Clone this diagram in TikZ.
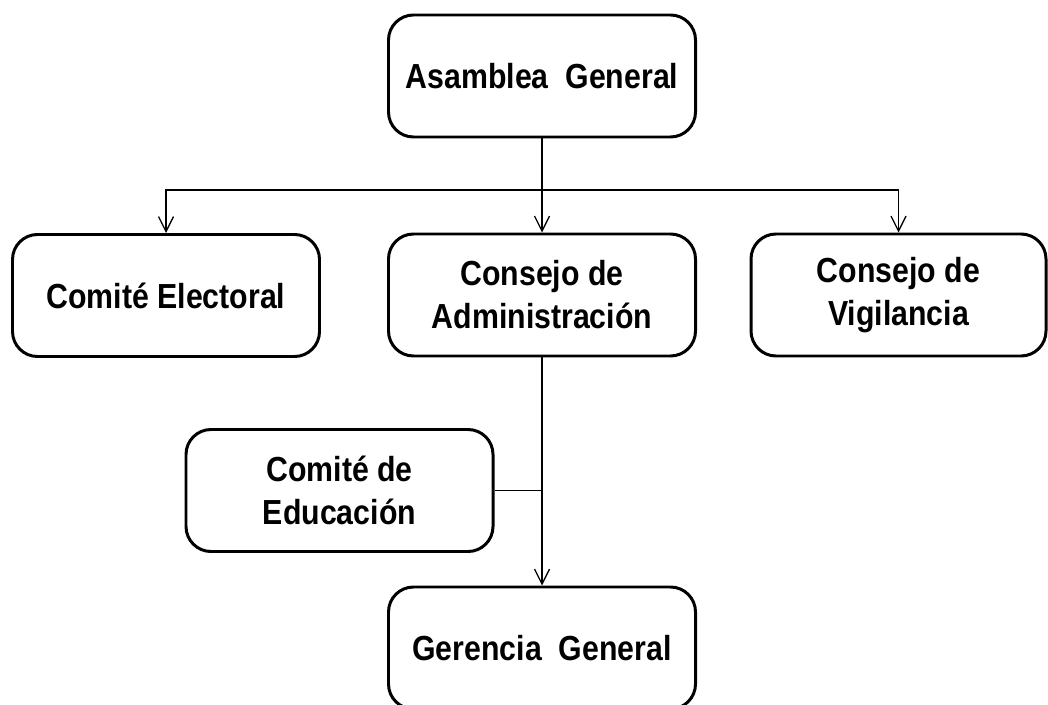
\documentclass[tikz,border=0pt]{standalone}
\usepackage{fontspec}
\setmainfont{Liberation Sans}
\newfontfamily\unitfont{Liberation Sans}[FakeStretch=0.87]
\usetikzlibrary{arrows.meta}
\begin{document}
\begin{tikzpicture}[
  unit/.style={draw=black, line width=1.7pt, rounded corners=0.5cm, fill=white,
    minimum width=6.14cm, minimum height=2.44cm, align=center,
    font=\unitfont\bfseries\fontsize{19.8}{24.4}\selectfont},
  link/.style={draw=black, line width=0.75pt},
  >={Straight Barb[length=0.3cm,width=0.3cm]}]
\useasboundingbox (0,0) rectangle (20.96,14.08);
\node [unit] (asamblea) at (10.84,12.56) {Asamblea\ \ General};
\node [unit] (electoral) at (3.32,8.17) {Comit\'e Electoral};
\node [unit] (administracion) at (10.84,8.18) {Consejo de\\Administraci\'on};
\node [unit, minimum width=5.9cm] (vigilancia) at (17.97,8.18) {Consejo de\\Vigilancia};
\node [unit] (educacion) at (6.79,4.27) {Comit\'e de\\Educaci\'on};
\node [unit] (gerencia) at (10.84,1.12) {Gerencia\ \ General};
\coordinate (split) at (10.84,10.28);
\draw [link, ->] (asamblea) -- (administracion);
\draw [link, ->] (split) -| (electoral);
\draw [link, ->] (split) -| (vigilancia);
\draw [link, ->] (administracion) -- (gerencia);
\draw [link] (educacion.east) -- (educacion.east -| administracion.south);
\end{tikzpicture}
\end{document}
